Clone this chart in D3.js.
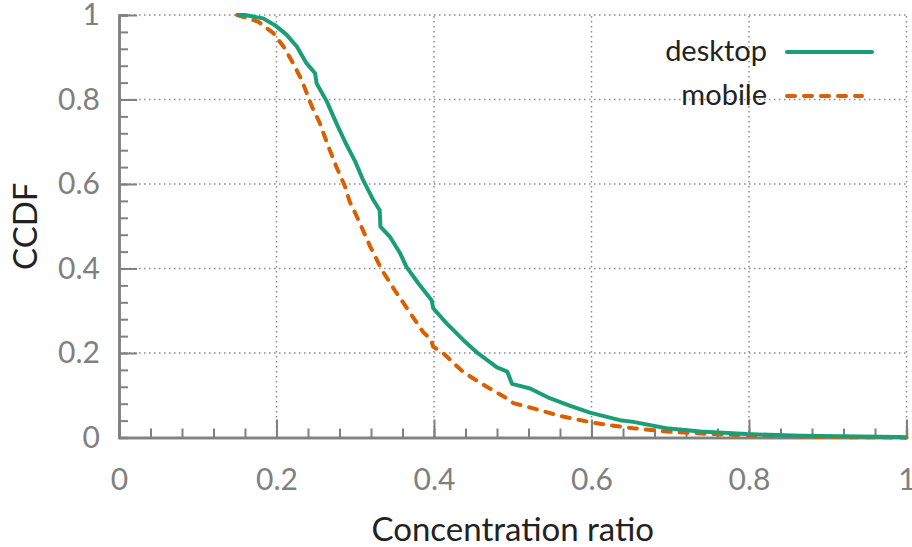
<!DOCTYPE html>
<html>
    <head>
        <title>Concentration ratio CCDF</title>
        <style>
            body { margin: 0; background: #fff; }
            .tick-label { font-family: Lato, "DejaVu Sans", sans-serif; font-size: 30px; fill: #808080; }
            .axis-title { font-family: Lato, "DejaVu Sans", sans-serif; font-size: 33px; fill: #222; }
            .legend-text { font-family: Lato, "DejaVu Sans", sans-serif; font-size: 29px; fill: #222; }
        </style>
        <script src="https://cdnjs.cloudflare.com/ajax/libs/d3/7.0.4/d3.min.js" charset="utf-8"></script>
        <script>
            // values: [concentration ratio, CCDF]
            const desktopCcdf = [
                [0.150, 1.000], [0.160, 1.000], [0.183, 0.992], [0.198, 0.976], [0.213, 0.953],
                [0.226, 0.925], [0.238, 0.886], [0.249, 0.862], [0.251, 0.838], [0.264, 0.795],
                [0.276, 0.744], [0.287, 0.700], [0.300, 0.653], [0.310, 0.609], [0.323, 0.562],
                [0.331, 0.538], [0.332, 0.499], [0.344, 0.475], [0.357, 0.436], [0.365, 0.404],
                [0.380, 0.365], [0.397, 0.325], [0.399, 0.306], [0.416, 0.270], [0.437, 0.231],
                [0.456, 0.199], [0.480, 0.166], [0.493, 0.156], [0.499, 0.127], [0.522, 0.116],
                [0.547, 0.093], [0.573, 0.075], [0.598, 0.059], [0.636, 0.041], [0.653, 0.037],
                [0.695, 0.022], [0.738, 0.014], [0.797, 0.008], [0.865, 0.004], [0.992, 0.001],
                [1.000, 0.000]
            ];
            const mobileCcdf = [
                [0.150, 1.000], [0.177, 0.984], [0.196, 0.957], [0.209, 0.925], [0.221, 0.886],
                [0.232, 0.846], [0.245, 0.783], [0.255, 0.744], [0.266, 0.688], [0.276, 0.641],
                [0.287, 0.594], [0.293, 0.558], [0.302, 0.523], [0.319, 0.452], [0.334, 0.396],
                [0.350, 0.349], [0.370, 0.294], [0.386, 0.250], [0.396, 0.232], [0.399, 0.215],
                [0.412, 0.199], [0.437, 0.155], [0.467, 0.120], [0.492, 0.093], [0.501, 0.081],
                [0.526, 0.069], [0.560, 0.051], [0.602, 0.035], [0.628, 0.028], [0.653, 0.022],
                [0.695, 0.014], [0.755, 0.008], [0.822, 0.004], [0.907, 0.001], [1.000, 0.000]
            ];
            const seriesNames = ["desktop", "mobile"];
            const seriesColors = ["#1b9e77", "#d95f02"];
            const majorTicks = [0, 0.2, 0.4, 0.6, 0.8, 1];
            const minorTicks = d3.range(0, 1.0001, 0.04);
            const xTitle = "Concentration ratio";
            const yTitle = "CCDF";

            document.addEventListener('DOMContentLoaded', function() {
                const w = 912;
                const h = 547;
                const margin = {left: 119, right: 5.5, top: 15, bottom: 109.5};

                const svg = d3.select("#chart")
                    .append("svg")
                    .attr("width", w)
                    .attr("height", h);

                const xScale = d3.scaleLinear().domain([0, 1]).range([margin.left, w - margin.right]);
                const yScale = d3.scaleLinear().domain([0, 1]).range([h - margin.bottom, margin.top]);

                // dotted grid
                const grid = svg.append("g")
                    .attr("stroke", "#8a8a8a")
                    .attr("stroke-width", 1.5)
                    .attr("stroke-dasharray", "1.5,3.5");
                grid.selectAll(".gx")
                    .data(majorTicks.filter(t => t > 0))
                    .enter()
                    .append("line")
                    .attr("x1", d => xScale(d)).attr("x2", d => xScale(d))
                    .attr("y1", yScale(0)).attr("y2", yScale(1));
                grid.selectAll(".gy")
                    .data(majorTicks.filter(t => t > 0))
                    .enter()
                    .append("line")
                    .attr("y1", d => yScale(d)).attr("y2", d => yScale(d))
                    .attr("x1", xScale(0)).attr("x2", xScale(1));

                // axes: minor ticks, then major ticks pointing inward
                const fmt = d => d === 0 ? "0" : d === 1 ? "1" : d3.format(".1f")(d);

                const xMinor = d3.axisBottom(xScale).tickValues(minorTicks).tickSize(-9).tickFormat("");
                const yMinor = d3.axisLeft(yScale).tickValues(minorTicks).tickSize(-9).tickFormat("");
                const xAxis = d3.axisBottom(xScale).tickValues(majorTicks).tickSizeInner(-18).tickSizeOuter(0).tickPadding(31).tickFormat(fmt);
                const yAxis = d3.axisLeft(yScale).tickValues(majorTicks).tickSizeInner(-18).tickSizeOuter(0).tickPadding(19).tickFormat(fmt);

                const axes = [
                    [xMinor, "translate(0," + yScale(0) + ")"],
                    [yMinor, "translate(" + xScale(0) + ",0)"],
                    [xAxis, "translate(0," + yScale(0) + ")"],
                    [yAxis, "translate(" + xScale(0) + ",0)"]
                ];
                axes.forEach(([ax, tr]) => {
                    const g = svg.append("g").attr("transform", tr).call(ax);
                    g.selectAll("line").attr("stroke", "#808080").attr("stroke-width", 2);
                    g.select(".domain").attr("stroke", "#808080").attr("stroke-width", 2.5);
                    g.selectAll("text").attr("class", "tick-label").attr("font-size", null).attr("font-family", null).attr("fill", null);
                });

                // curves
                const line = d3.line()
                    .x(d => xScale(d[0]))
                    .y(d => yScale(d[1]));

                svg.append("path")
                    .datum(mobileCcdf)
                    .attr("fill", "none")
                    .attr("stroke", seriesColors[1])
                    .attr("stroke-width", 4)
                    .attr("stroke-linecap", "round")
                    .attr("stroke-dasharray", "8,9")
                    .attr("d", line);

                svg.append("path")
                    .datum(desktopCcdf)
                    .attr("fill", "none")
                    .attr("stroke", seriesColors[0])
                    .attr("stroke-width", 4)
                    .attr("stroke-linejoin", "round")
                    .attr("d", line);

                // axis titles
                svg.append("text")
                    .attr("class", "axis-title")
                    .attr("x", (xScale(0) + xScale(1)) / 2)
                    .attr("y", 541)
                    .attr("text-anchor", "middle")
                    .text(xTitle);
                svg.append("text")
                    .attr("class", "axis-title")
                    .attr("transform", "translate(37," + yScale(0.5) + ") rotate(-90)")
                    .attr("text-anchor", "middle")
                    .text(yTitle);

                // legend
                const legend = svg.append("g");
                seriesNames.forEach((name, i) => {
                    const ly = 52 + i * 44;
                    legend.append("text")
                        .attr("class", "legend-text")
                        .attr("x", 767)
                        .attr("y", ly + 9)
                        .attr("text-anchor", "end")
                        .text(name);
                    legend.append("line")
                        .attr("x1", 787).attr("x2", i === 0 ? 872 : 862)
                        .attr("y1", ly).attr("y2", ly)
                        .attr("stroke", seriesColors[i])
                        .attr("stroke-width", 4)
                        .attr("stroke-linecap", "round")
                        .attr("stroke-dasharray", i === 0 ? null : "8,9");
                });
            });
        </script>
    </head>
    <body>
        <div id="chart"></div>
    </body>
</html>
